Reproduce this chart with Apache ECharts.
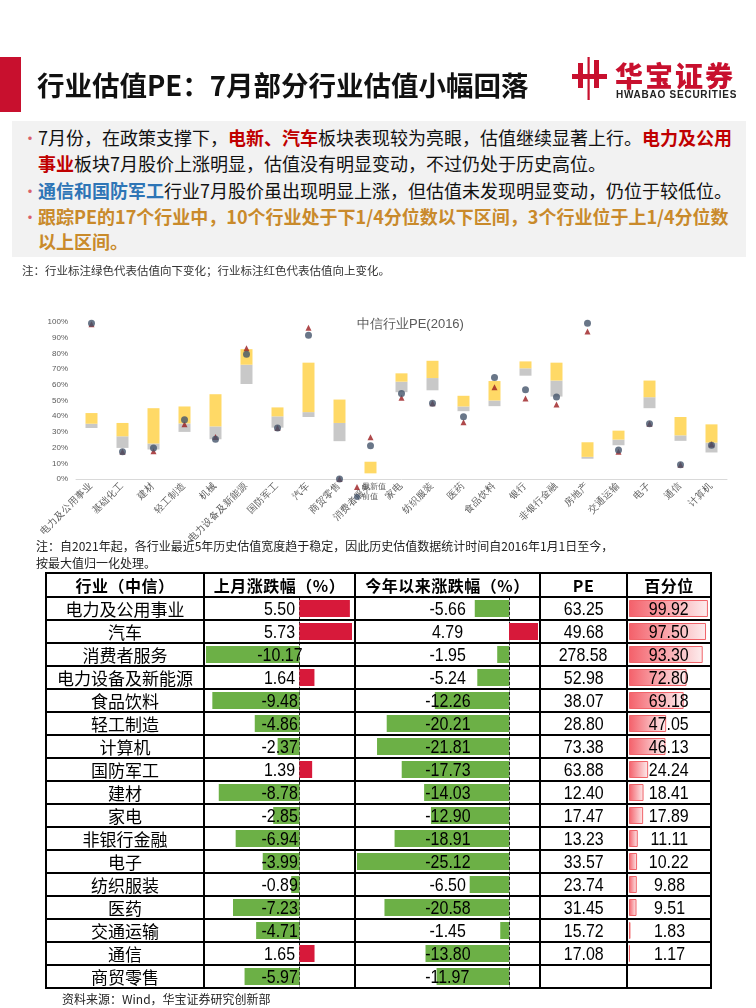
<!DOCTYPE html>
<html><head><meta charset="utf-8">
<script src="https://cdn.jsdelivr.net/npm/echarts@6/dist/echarts.min.js"></script>
<style>
html,body{margin:0;padding:0;background:#fff;}
body{width:756px;height:1008px;position:relative;overflow:hidden;font-family:"Noto Sans CJK SC","Noto Sans",sans-serif;color:#111;}
#chart{position:absolute;left:0;top:0;width:756px;height:1008px;z-index:0;}
.ov{position:absolute;z-index:1;white-space:nowrap;pointer-events:none;}
.r{color:#C00000;font-weight:700;}
.bl{color:#2E75B6;font-weight:700;}
.o{color:#C98A2B;font-weight:700;}
.bul{position:absolute;left:10px;color:#D9606A;font-size:16px;}
.ln{position:absolute;left:26px;font-size:18px;line-height:26px;height:26px;white-space:nowrap;color:#111;}
.tl{position:absolute;background:#000;z-index:1;}
.tc{position:absolute;z-index:1;text-align:center;white-space:nowrap;color:#000;}
.num{font-family:"Liberation Sans",sans-serif;font-size:19px;}
.num span{display:inline-block;transform:scaleX(0.84);transform-origin:50% 50%;}
.cn{font-family:"Noto Sans CJK SC",sans-serif;font-size:17px;}
.hd{font-family:"Noto Sans CJK SC",sans-serif;font-size:16px;font-weight:700;letter-spacing:0.5px;}
</style></head>
<body>
<div id="chart"></div>

<div class="ov" style="left:0;top:57px;width:21px;height:55px;background:#C8102E"></div>
<div class="ov" style="left:37px;top:67px;font-size:27.5px;font-weight:700;line-height:35px;color:#111">行业估值PE：7月部分行业估值小幅回落</div>

<svg class="ov" style="left:570px;top:56px" width="40" height="46" viewBox="0 0 40 46">
  <rect x="2" y="18" width="35" height="5" fill="#C8102E"/>
  <rect x="8" y="7" width="5" height="25" fill="#C8102E"/>
  <rect x="24" y="4" width="5" height="28" fill="#C8102E"/>
  <rect x="17.5" y="1" width="2.2" height="43" fill="#C8102E"/>
</svg>
<div class="ov" style="left:615px;top:57px;font-size:28px;font-weight:900;line-height:36px;color:#C8102E;letter-spacing:2px">华宝证券</div>
<div class="ov" style="left:616px;top:88px;font-family:'Liberation Sans',sans-serif;font-size:10px;font-weight:700;letter-spacing:0.75px;line-height:14px;color:#222">HWABAO SECURITIES</div>

<div class="ov" style="left:12px;top:121px;width:734px;height:136px;background:#F2F2F2">
  <div class="bul" style="top:3px;line-height:26px">•</div>
  <div class="ln" style="top:3px">7月份，在政策支撑下，<span class="r">电新、汽车</span>板块表现较为亮眼，估值继续显著上行。<span class="r">电力及公用</span></div>
  <div class="ln" style="top:29px"><span class="r">事业</span>板块7月股价上涨明显，估值没有明显变动，不过仍处于历史高位。</div>
  <div class="bul" style="top:56px;line-height:26px">•</div>
  <div class="ln" style="top:56px"><span class="bl">通信和国防军工</span>行业7月股价虽出现明显上涨，但估值未发现明显变动，仍位于较低位。</div>
  <div class="bul" style="top:82px;line-height:26px">•</div>
  <div class="ln" style="top:82px"><span class="o">跟踪PE的17个行业中，10个行业处于下1/4分位数以下区间，3个行业位于上1/4分位数</span></div>
  <div class="ln" style="top:107px"><span class="o">以上区间。</span></div>
</div>

<div class="ov" style="left:22px;top:262px;font-size:11.5px;line-height:16px;color:#333">注：行业标注绿色代表估值向下变化；行业标注红色代表估值向上变化。</div>

<div class="ov" style="left:36px;top:537px;font-size:12px;line-height:17px;color:#222">注：自2021年起，各行业最近5年历史估值宽度趋于稳定，因此历史估值数据统计时间自2016年1月1日至今，<br>按最大值归一化处理。</div>

<div class="ov" style="left:62px;top:990px;font-size:12px;line-height:17px;color:#222">资料来源：Wind，华宝证券研究创新部</div>

<div id="tbl"></div>

<script>
// ---------- PE chart data ----------
const peCats = ['电力及公用事业','基础化工','建材','轻工制造','机械','电力设备及新能源','国防军工','汽车','商贸零售','消费者服务','家电','纺织服装','医药','食品饮料','银行','非银行金融','房地产','交通运输','电子','通信','计算机'];
const rangeLow  = [32.5,19.8,18.8,30.0,25.3,60.5,32.7,39.5,24.1,3.6,55.3,56.5,43.2,46.4,65.8,52.5,12.9,21.5,45.1,24.3,16.9];
const rangeMid  = [35.2,27.2,22.6,35.4,33.5,72.8,39.9,42.6,35.7,3.6,62.0,64.3,46.2,50.0,70.5,62.7,14.1,25.1,52.1,27.8,23.2];
const rangeHigh = [42.0,35.7,45.1,46.2,54.0,82.7,45.6,74.1,50.6,11.0,67.3,75.3,53.0,62.4,74.9,74.1,23.4,30.8,62.7,39.5,34.8];
const latestVal = [98.5,17.3,17.7,34.8,26.8,83.3,32.5,96.4,0,26.6,51.7,48.3,36.1,58.4,51.3,47.5,93.9,17.3,35.2,9.1,22.2];
const prevVal   = [99.2,17.3,19.8,37.8,25.3,79.5,32.5,91.6,0,21.1,54.4,48.3,39.7,64.6,56.8,52.3,99.2,18.4,35.2,9.1,21.5];
const yTicks = {min:0,max:100,interval:10};

// ---------- table data ----------
const tblHeaders = ['行业（中信）','上月涨跌幅（%）','今年以来涨跌幅（%）','PE','百分位'];
const tblCats  = ['电力及公用事业','汽车','消费者服务','电力设备及新能源','食品饮料','轻工制造','计算机','国防军工','建材','家电','非银行金融','电子','纺织服装','医药','交通运输','通信','商贸零售'];
const lastMonth = [5.50,5.73,-10.17,1.64,-9.48,-4.86,-2.37,1.39,-8.78,-2.85,-6.94,-3.99,-0.89,-7.23,-4.71,1.65,-5.97];
const ytdChg    = [-5.66,4.79,-1.95,-5.24,-12.26,-20.21,-21.81,-17.73,-14.03,-12.90,-18.91,-25.12,-6.50,-20.58,-1.45,-13.80,-11.97];
const peNow     = [63.25,49.68,278.58,52.98,38.07,28.80,73.38,63.88,12.40,17.47,13.23,33.57,23.74,31.45,15.72,17.08,null];
const pctRank   = [99.92,97.50,93.30,72.80,69.18,47.05,46.13,24.24,18.41,17.89,11.11,10.22,9.88,9.51,1.83,1.17,null];

// ---------- table layout ----------
const colX = [46,204,355,540,627,711];
const tTop = 573, hdBottom = 597, rowH = 23;
const tBottom = hdBottom + rowH*tblCats.length;
const tbl = document.getElementById('tbl');
function add(cls, css, html){const d=document.createElement('div');d.className=cls;d.style.cssText=css;if(html!==undefined)d.innerHTML=html;tbl.appendChild(d);}
const hLines=[tTop,hdBottom];for(let i=1;i<=tblCats.length;i++)hLines.push(hdBottom+i*rowH);
hLines.forEach(y=>add('tl',`left:${colX[0]-1}px;top:${y-1}px;width:${colX[5]-colX[0]+2}px;height:2px;`));
colX.forEach(x=>add('tl',`left:${x-1}px;top:${tTop-1}px;width:2px;height:${tBottom-tTop+2}px;`));
tblHeaders.forEach((h,c)=>add('tc hd',`left:${colX[c]}px;width:${colX[c+1]-colX[c]}px;top:${tTop}px;height:${hdBottom-tTop}px;line-height:${hdBottom-tTop}px;`,h));
const fmt=v=>v==null?'':v.toFixed(2);
tblCats.forEach((name,i)=>{
  const top=hdBottom+i*rowH;
  const cells=[name,fmt(lastMonth[i]),fmt(ytdChg[i]),fmt(peNow[i]),fmt(pctRank[i])];
  cells.forEach((t,c)=>add('tc '+(c===0?'cn':'num'),`left:${colX[c]}px;width:${colX[c+1]-colX[c]}px;top:${top}px;height:${rowH}px;line-height:${rowH}px;`,c===0?t:'<span>'+t+'</span>'));
});

// ---------- chart ----------
const chart = echarts.init(document.getElementById('chart'));
const gray = rangeMid.map((v,i)=>+(v-rangeLow[i]).toFixed(2));
const yellow = rangeHigh.map((v,i)=>+(v-rangeMid[i]).toFixed(2));
const RED='#D7193A', GREEN='#6CB046';
const colorPN = p => p.value>=0?RED:GREEN;
const barTop=hdBottom, barH=rowH*tblCats.length;
function tblY(idx, line){
  return {type:'category',gridIndex:idx,data:tblCats,inverse:true,boundaryGap:true,
    axisTick:{show:false},axisLabel:{show:false},splitLine:{show:false},
    axisLine:{show:line,onZero:true,lineStyle:{color:'#222',type:[3,2],width:1}}};
}
chart.setOption({
  animation:false,
  title:{text:'中信行业PE(2016)',left:352,top:313,textStyle:{fontSize:13,color:'#595959',fontWeight:'normal'}},
  legend:{data:['最新值','前值'],orient:'vertical',left:354,top:483,itemWidth:6,itemHeight:6,itemGap:2,padding:0,
    textStyle:{fontSize:8,color:'#595959',padding:[0,0,0,-3]}},
  grid:[
    {left:76,top:322,width:651,height:157},
    {left:206,top:barTop,width:146,height:barH},
    {left:357,top:barTop,width:181,height:barH},
    {left:629,top:barTop,width:79,height:barH}
  ],
  xAxis:[
    {type:'category',gridIndex:0,data:peCats,axisTick:{show:false},
      axisLine:{lineStyle:{color:'#D9D9D9',width:1}},
      axisLabel:{rotate:45,interval:0,fontSize:9.5,color:'#595959',margin:5}},
    {type:'value',gridIndex:1,show:false,min:Math.min(...lastMonth),max:Math.max(...lastMonth)},
    {type:'value',gridIndex:2,show:false,min:Math.min(...ytdChg),max:Math.max(...ytdChg)},
    {type:'value',gridIndex:3,show:false,min:0,max:100}
  ],
  yAxis:[
    {type:'value',gridIndex:0,min:yTicks.min,max:yTicks.max,interval:yTicks.interval,
      axisLine:{show:false},axisTick:{show:false},splitLine:{show:false},
      axisLabel:{formatter:'{value}%',fontSize:8,color:'#595959',margin:8}},
    tblY(1,true),tblY(2,true),tblY(3,false)
  ],
  series:[
    {type:'bar',stack:'r',data:rangeLow,barWidth:12,itemStyle:{color:'rgba(0,0,0,0)'},silent:true},
    {type:'bar',stack:'r',data:gray,barWidth:12,itemStyle:{color:'#C8C8C8'}},
    {type:'bar',stack:'r',data:yellow,barWidth:12,itemStyle:{color:'#FFD966'}},
    {name:'最新值',type:'scatter',data:latestVal,symbol:'triangle',symbolSize:6,itemStyle:{color:'#9B1B1E'}},
    {name:'前值',type:'scatter',data:prevVal,symbol:'circle',symbolSize:7,itemStyle:{color:'#44546A'}},
    {type:'bar',xAxisIndex:1,yAxisIndex:1,data:lastMonth,barWidth:17,itemStyle:{color:colorPN}},
    {type:'bar',xAxisIndex:2,yAxisIndex:2,data:ytdChg,barWidth:17,itemStyle:{color:colorPN}},
    {type:'bar',xAxisIndex:3,yAxisIndex:3,data:pctRank,barWidth:17,
      itemStyle:{borderColor:'#F0646A',borderWidth:1,
        color:new echarts.graphic.LinearGradient(0,0,1,0,[{offset:0,color:'#F4606A'},{offset:1,color:'#FDEDEE'}])}}
  ]
});
</script>
</body></html>
